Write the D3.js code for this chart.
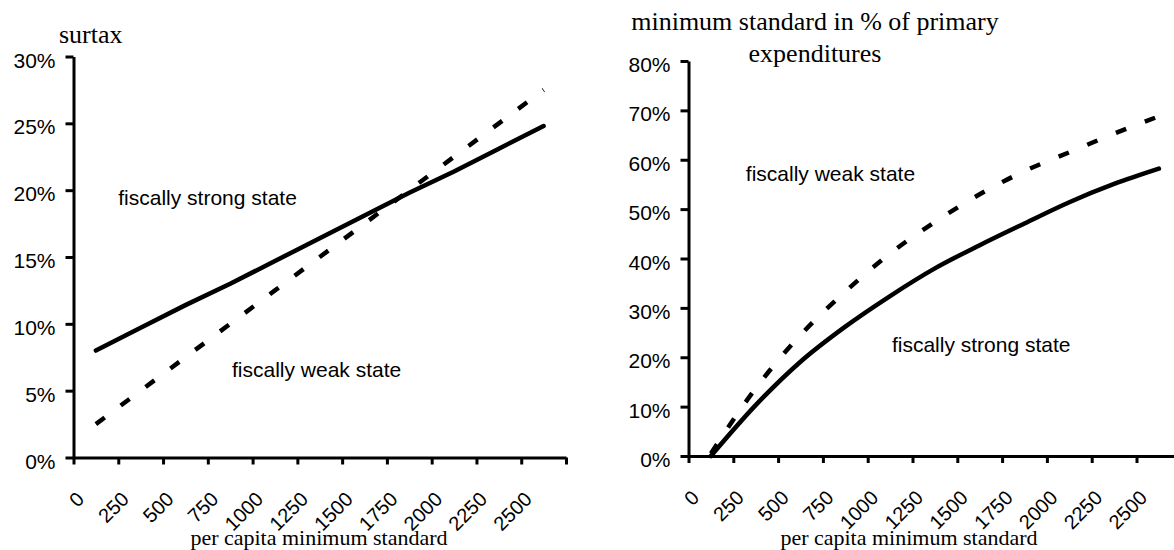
<!DOCTYPE html>
<html>
<head>
<meta charset="utf-8">
<script src="https://cdn.jsdelivr.net/npm/d3@7"></script>
<style>
  body { margin: 0; background: #fff; }
</style>
</head>
<body>
<div id="chart"></div>
<script>
// per capita minimum standard (category axis, shared by both panels)
const categories = ['0', '250', '500', '750', '1000', '1250', '1500', '1750', '2000', '2250', '2500']

// left panel: surtax in %
const surtaxStrong = [8.0, 9.7, 11.4, 13.0, 14.7, 16.4, 18.1, 19.8, 21.4, 23.1, 24.8]
const surtaxWeak = [2.5, 5.0, 7.5, 10.0, 12.5, 15.0, 17.5, 20.0, 22.5, 25.0, 27.5]
const surtaxTicks = [0, 5, 10, 15, 20, 25, 30]

// right panel: minimum standard in % of primary expenditures
const shareStrong = [0, 10.3, 19.1, 26.2, 32.4, 38.0, 42.7, 47.1, 51.4, 55.1, 58.2]
const shareWeak = [0.5, 13.7, 24.5, 33.3, 41.0, 47.4, 53.0, 57.7, 61.5, 65.3, 68.8]
const shareTicks = [0, 10, 20, 30, 40, 50, 60, 70, 80]

const width = 1174
const height = 550
const sans = 'Liberation Sans, Arial, sans-serif'
const serif = 'Liberation Serif, Times New Roman, serif'

const svg = d3.select('#chart')
  .append('svg')
  .attr('width', width)
  .attr('height', height)

function drawPanel(p) {
  const edge = d3.scaleLinear().domain([0, categories.length]).range([p.left, p.right])
  const x = d3.scaleBand().domain(categories).range([p.left, p.right])
  const y = d3.scaleLinear().domain([0, p.yMax]).range([p.bottom, p.top])
  const mid = d => x(d) + x.bandwidth() / 2

  const g = svg.append('g')

  // y axis
  const yAxis = d3.axisLeft(y)
    .tickValues(p.yTicks)
    .tickSize(8)
    .tickSizeOuter(0)
    .tickPadding(10)
    .tickFormat(d => d + '%')

  const ya = g.append('g')
    .attr('transform', 'translate(' + p.left + ',0)')
    .call(yAxis)
  ya.selectAll('text')
    .attr('font-family', sans)
    .attr('font-size', 21)
    .attr('fill', '#000')
    .attr('dy', '0.5em')

  // x axis: ticks between categories like a spreadsheet category axis
  const xAxis = d3.axisBottom(edge)
    .tickValues(d3.range(categories.length + 1))
    .tickSize(7)
    .tickSizeOuter(0)
    .tickFormat('')

  const xa = g.append('g')
    .attr('transform', 'translate(0,' + p.bottom + ')')
    .call(xAxis)

  g.selectAll('.domain, .tick line')
    .attr('stroke', '#000')
    .attr('stroke-width', 3)

  g.selectAll('.xlab')
    .data(categories)
    .enter()
    .append('text')
    .attr('class', 'xlab')
    .attr('transform', d => 'translate(' + (mid(d) - 10.5) + ',' + (p.bottom + 43) + ') rotate(-45)')
    .attr('text-anchor', 'end')
    .attr('font-family', sans)
    .attr('font-size', 20)
    .text(d => d)

  const line = d3.line()
    .x((d, i) => mid(categories[i]))
    .y(d => y(d))
    .curve(p.curve)

  g.append('path')
    .datum(p.weak)
    .attr('d', line)
    .attr('fill', 'none')
    .attr('stroke', '#000')
    .attr('stroke-width', 4.5)
    .attr('stroke-dasharray', '11,20')

  g.append('path')
    .datum(p.strong)
    .attr('d', line)
    .attr('fill', 'none')
    .attr('stroke', '#000')
    .attr('stroke-width', 4.5)
    .attr('stroke-linecap', 'round')

  // in-plot labels, placed in data coordinates
  p.notes.forEach(n => {
    g.append('text')
      .attr('x', edge(n.at))
      .attr('y', y(n.value))
      .attr('font-family', sans)
      .attr('font-size', 21)
      .text(n.text)
  })

  g.append('text')
    .attr('x', p.xTitleX)
    .attr('y', 545)
    .attr('text-anchor', 'middle')
    .attr('font-family', serif)
    .attr('font-size', 22)
    .text('per capita minimum standard')
}

drawPanel({
  left: 73.5, right: 566, top: 56.5, bottom: 457.5,
  yMax: 30, yTicks: surtaxTicks,
  strong: surtaxStrong, weak: surtaxWeak,
  curve: d3.curveLinear,
  notes: [
    {text: 'fiscally strong state', at: 1.0, value: 18.9},
    {text: 'fiscally weak state', at: 3.54, value: 6.0}
  ],
  xTitleX: 319
})

drawPanel({
  left: 688.5, right: 1181.3, top: 61, bottom: 456,
  yMax: 80, yTicks: shareTicks,
  strong: shareStrong, weak: shareWeak,
  curve: d3.curveMonotoneX,
  notes: [
    {text: 'fiscally weak state', at: 1.28, value: 55.6},
    {text: 'fiscally strong state', at: 4.54, value: 21.1}
  ],
  xTitleX: 909
})

svg.append('text')
  .attr('x', 59)
  .attr('y', 43)
  .attr('font-family', serif)
  .attr('font-size', 26)
  .text('surtax')

svg.append('text')
  .attr('x', 815)
  .attr('y', 30)
  .attr('text-anchor', 'middle')
  .attr('font-family', serif)
  .attr('font-size', 26)
  .text('minimum standard in % of primary')

svg.append('text')
  .attr('x', 815)
  .attr('y', 62)
  .attr('text-anchor', 'middle')
  .attr('font-family', serif)
  .attr('font-size', 26)
  .text('expenditures')
</script>
</body>
</html>
